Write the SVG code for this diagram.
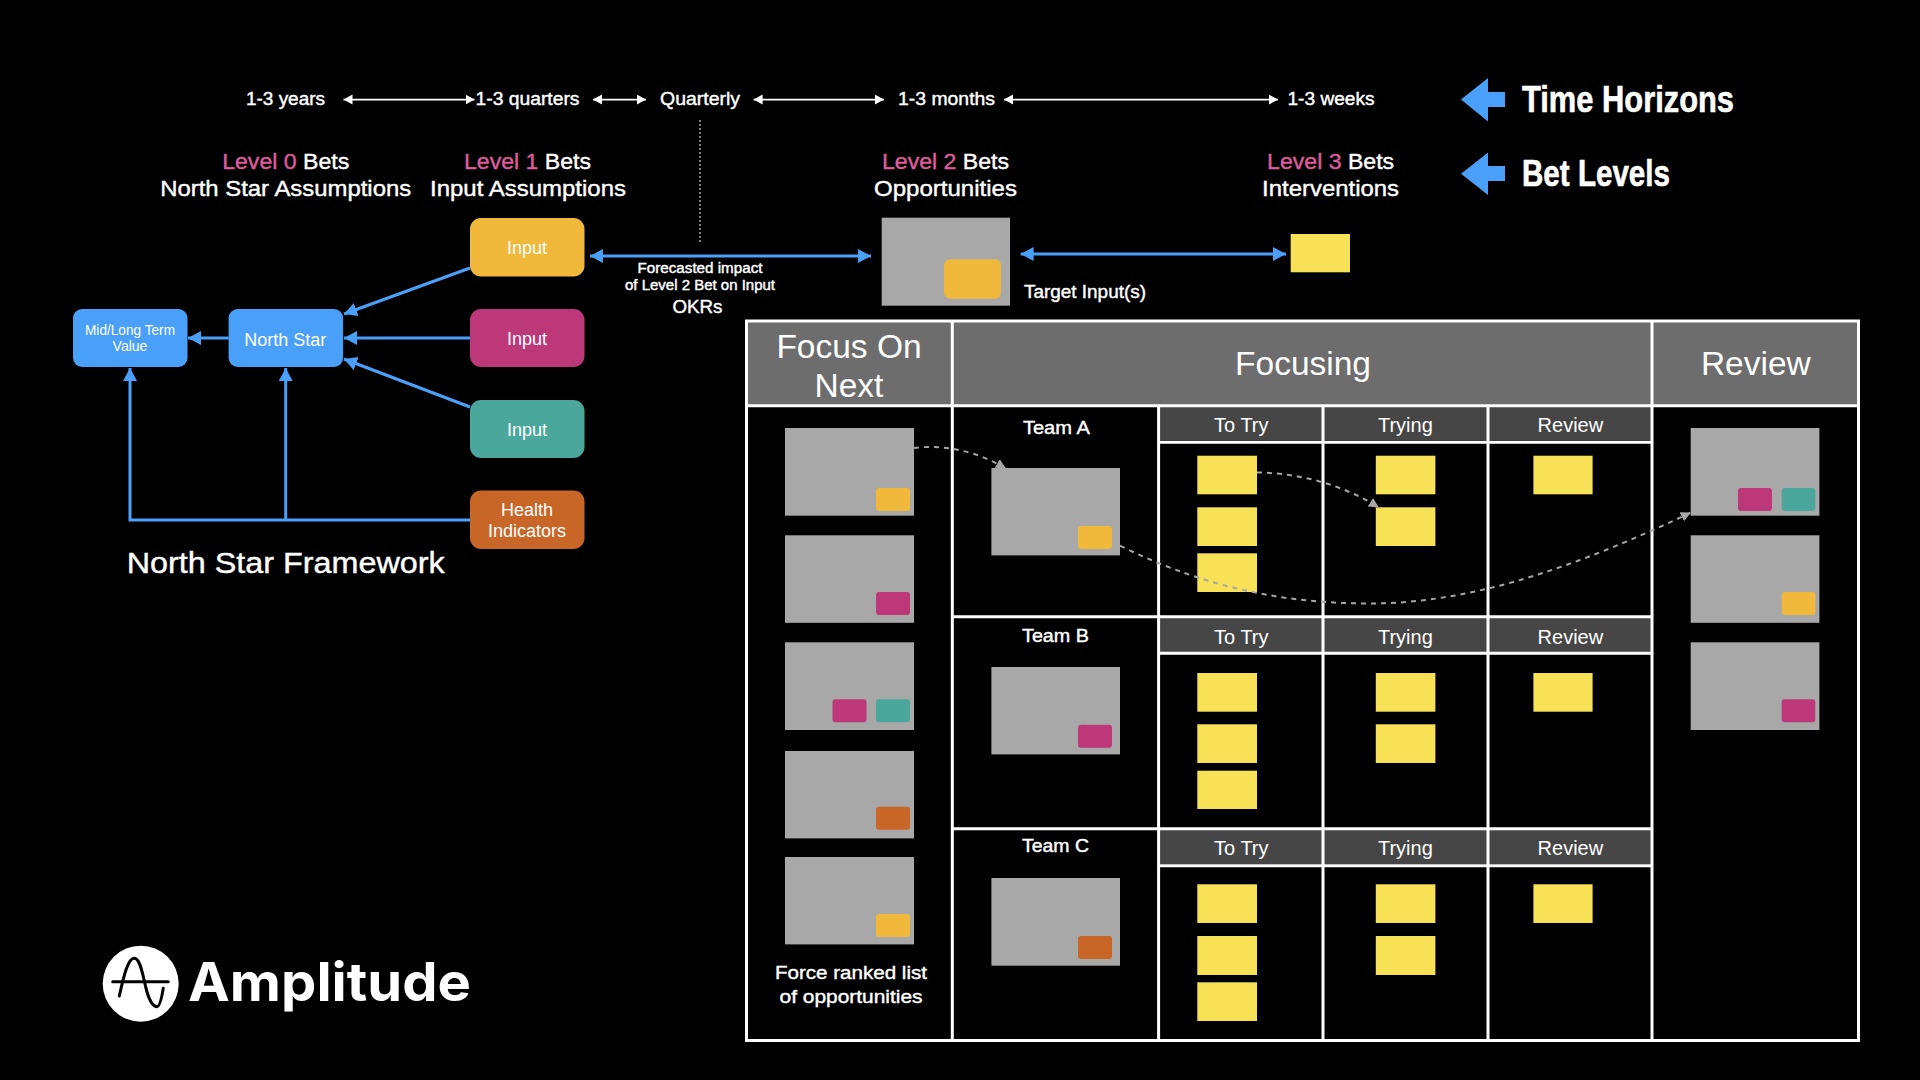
<svg xmlns="http://www.w3.org/2000/svg" width="1920" height="1080" viewBox="0 0 1920 1080">
<style>
text{font-family:"Liberation Sans",Arial,sans-serif;fill:#fff;text-anchor:middle}
.m{stroke:#fff;stroke-width:.4}
.pink{fill:#df5c9c;stroke:#df5c9c}
.t18{font-size:18px}
.t21{font-size:22px}
.b{fill:none;stroke:#4a9ff8;stroke-width:3}
.w{fill:none;stroke:#fff;stroke-width:1.6}
.d{fill:none;stroke:#a6a6a6;stroke-width:2;stroke-dasharray:5 5}
.card{fill:#a8a8a8}
.sticky{fill:#f7e157}
.cy{fill:#f0b93c}.cm{fill:#bc3878}.ct{fill:#4ba79c}.co{fill:#c86628}.cb{fill:#4a9ff8}
.hd{fill:#6d6d6d}.sh{fill:#464646}
.g{fill:none;stroke:#fff;stroke-width:3}
.h1{font-size:33.500px}.h2{font-size:20px}.tm{font-size:19px}
.cond{font-family:"Liberation Sans Narrow","Liberation Sans",sans-serif;font-weight:700;font-size:37px;text-anchor:start;stroke:#fff;stroke-width:.6}
</style>
<defs>
<marker id="ab" markerUnits="userSpaceOnUse" markerWidth="16" markerHeight="16" refX="13" refY="7" orient="auto-start-reverse"><path d="M0 0L13 7L0 14z" fill="#4a9ff8"/></marker>
<marker id="aw" markerUnits="userSpaceOnUse" markerWidth="12" markerHeight="12" refX="9" refY="5" orient="auto-start-reverse"><path d="M0 0L9 5L0 10z" fill="#fff"/></marker>
<marker id="ag" markerUnits="userSpaceOnUse" markerWidth="12" markerHeight="12" refX="9" refY="5" orient="auto"><path d="M0 0L10 5L0 10z" fill="#a6a6a6"/></marker>
</defs>
<rect width="1920" height="1080" fill="#000"/>

<g id="horizons-text">
<text class="t18 m" x="285.500" y="105" textLength="79" lengthAdjust="spacingAndGlyphs">1-3 years</text>
<text class="t18 m" x="527.500" y="105" textLength="104" lengthAdjust="spacingAndGlyphs">1-3 quarters</text>
<text class="t18 m" x="700" y="105" textLength="80" lengthAdjust="spacingAndGlyphs">Quarterly</text>
<text class="t18 m" x="946.500" y="105" textLength="97" lengthAdjust="spacingAndGlyphs">1-3 months</text>
<text class="t18 m" x="1331" y="105" textLength="87" lengthAdjust="spacingAndGlyphs">1-3 weeks</text>
</g>
<g id="level-0"><text class="t21 m" x="285.700" y="169" textLength="127" lengthAdjust="spacingAndGlyphs"><tspan class="pink">Level 0</tspan> Bets</text><text class="t21 m" x="285.700" y="196" textLength="251" lengthAdjust="spacingAndGlyphs">North Star Assumptions</text></g>
<g id="level-1"><text class="t21 m" x="527.500" y="169" textLength="127" lengthAdjust="spacingAndGlyphs"><tspan class="pink">Level 1</tspan> Bets</text><text class="t21 m" x="528" y="196" textLength="196" lengthAdjust="spacingAndGlyphs">Input Assumptions</text></g>
<g id="level-2"><text class="t21 m" x="945.500" y="169" textLength="127" lengthAdjust="spacingAndGlyphs"><tspan class="pink">Level 2</tspan> Bets</text><text class="t21 m" x="945.500" y="196" textLength="143" lengthAdjust="spacingAndGlyphs">Opportunities</text></g>
<g id="level-3"><text class="t21 m" x="1330.600" y="169" textLength="127" lengthAdjust="spacingAndGlyphs"><tspan class="pink">Level 3</tspan> Bets</text><text class="t21 m" x="1330.600" y="196" textLength="137" lengthAdjust="spacingAndGlyphs">Interventions</text></g>

<g id="legend-time"><path class="cb" d="M1461 99.500L1488 78V92H1505V107H1488V121.500z"/><text class="cond" x="1522" y="112" textLength="212" lengthAdjust="spacingAndGlyphs">Time Horizons</text></g>
<g id="legend-bets"><path class="cb" d="M1461 173.700L1488 152.500V166H1505V181H1488V195z"/><text class="cond" x="1522" y="186" textLength="148" lengthAdjust="spacingAndGlyphs">Bet Levels</text></g>

<g id="connectors">
<path class="w" marker-start="url(#aw)" marker-end="url(#aw)" d="M343.500 99.600H474.500"/>
<path class="w" marker-start="url(#aw)" marker-end="url(#aw)" d="M593 99.600H646"/>
<path class="w" marker-start="url(#aw)" marker-end="url(#aw)" d="M753.600 99.600H884"/>
<path class="w" marker-start="url(#aw)" marker-end="url(#aw)" d="M1004 99.600H1278"/>
<path d="M700 120V243" fill="none" stroke="#a6a6a6" stroke-width="1.500" stroke-dasharray="2 2"/>
<path class="b" marker-start="url(#ab)" marker-end="url(#ab)" d="M590 256H871"/>
<path class="b" marker-start="url(#ab)" marker-end="url(#ab)" d="M1020.600 254H1286"/>
<path class="b" marker-end="url(#ab)" d="M470 268L344 314"/>
<path class="b" marker-end="url(#ab)" d="M470 338H344"/>
<path class="b" marker-end="url(#ab)" d="M470 407L344 359"/>
<path class="b" marker-end="url(#ab)" d="M228.600 338H188"/>
<path class="b" marker-end="url(#ab)" d="M470 520H130V368"/>
<path class="b" marker-end="url(#ab)" d="M285.700 520V368"/>
</g>

<g id="node-input-1"><rect class="cy" x="470" y="218" width="114.500" height="58.500" rx="11"/><text class="t18" x="527" y="254">Input</text></g>
<g id="node-input-2"><rect class="cm" x="470" y="309" width="114.500" height="58" rx="11"/><text class="t18" x="527" y="345">Input</text></g>
<g id="node-input-3"><rect class="ct" x="470" y="400" width="114.500" height="58" rx="11"/><text class="t18" x="527" y="436">Input</text></g>
<g id="node-health"><rect class="co" x="470" y="490.500" width="114.500" height="58.500" rx="11"/><text class="t18" x="527" y="516">Health</text><text class="t18" x="527" y="537">Indicators</text></g>
<g id="node-north-star"><rect class="cb" x="228.600" y="309" width="114.500" height="58" rx="9"/><text class="t18" x="285.200" y="345.500">North Star</text></g>
<g id="node-value"><rect class="cb" x="73" y="309" width="114.500" height="58" rx="9"/><text x="130" y="335" font-size="14" textLength="90" lengthAdjust="spacingAndGlyphs">Mid/Long Term</text><text x="130" y="351" font-size="14">Value</text></g>
<text id="framework-title" class="m" x="285.700" y="573" font-size="30" stroke-width=".7" textLength="318" lengthAdjust="spacingAndGlyphs">North Star Framework</text>
<g id="forecast-label"><text class="m" x="700" y="272.500" font-size="14" textLength="125" lengthAdjust="spacingAndGlyphs">Forecasted impact</text><text class="m" x="700" y="289.500" font-size="14" textLength="150" lengthAdjust="spacingAndGlyphs">of Level 2 Bet on Input</text><text class="t18 m" x="697.500" y="313" textLength="50" lengthAdjust="spacingAndGlyphs">OKRs</text></g>

<g id="node-level2"><rect class="card" x="881.700" y="217.700" width="128.300" height="88"/><rect class="cy" x="944" y="259.300" width="57" height="39.500" rx="6"/></g>
<g id="node-level3"><rect class="sticky" x="1290.700" y="234" width="59.300" height="38.300"/></g>
<text id="target-label" class="t18 m" x="1085" y="297.500" textLength="122" lengthAdjust="spacingAndGlyphs">Target Input(s)</text>

<g id="board">
<rect class="hd" x="746.500" y="321" width="1112" height="85"/>
<rect class="sh" x="1158.600" y="407" width="493.400" height="33"/>
<rect class="sh" x="1158.600" y="618" width="493.400" height="34"/>
<rect class="sh" x="1158.600" y="830" width="493.400" height="34"/>
<path class="g" d="M746.500 321H1858.500V1040.500H746.500zM746.500 405.700H1858.500M952.300 321V1040.500M1158.600 405.700V1040.500M1323 405.700V1040.500M1488 405.700V1040.500M1652 321V1040.500M952.300 616.700H1652M952.300 828.700H1652M1158.600 442.300H1652M1158.600 653.300H1652M1158.600 865.700H1652"/>
<text class="h1" x="849" y="358">Focus On</text><text class="h1" x="849" y="397">Next</text>
<text class="h1" x="1303" y="375">Focusing</text><text class="h1" x="1755.800" y="375">Review</text>
<text class="tm m" x="1056.400" y="434" textLength="67" lengthAdjust="spacingAndGlyphs">Team A</text><text class="tm m" x="1055.500" y="642" textLength="67" lengthAdjust="spacingAndGlyphs">Team B</text><text class="tm m" x="1055.500" y="852" textLength="67" lengthAdjust="spacingAndGlyphs">Team C</text>
<text class="h2" x="1241.300" y="432">To Try</text><text class="h2" x="1405.400" y="432">Trying</text><text class="h2" x="1570.400" y="432">Review</text>
<text class="h2" x="1241.300" y="644">To Try</text><text class="h2" x="1405.400" y="644">Trying</text><text class="h2" x="1570.400" y="644">Review</text>
<text class="h2" x="1241.300" y="855">To Try</text><text class="h2" x="1405.400" y="855">Trying</text><text class="h2" x="1570.400" y="855">Review</text>
<text class="tm m" x="851" y="979" textLength="152" lengthAdjust="spacingAndGlyphs">Force ranked list</text><text class="tm m" x="851" y="1003" textLength="143" lengthAdjust="spacingAndGlyphs">of opportunities</text>
</g>

<g id="focus-cards">
<g id="focus-1"><rect class="card" x="785" y="428" width="129" height="87.700"/><rect class="cy" x="876" y="488" width="34" height="23" rx="3"/></g>
<g id="focus-2"><rect class="card" x="785" y="535.300" width="129" height="87.500"/><rect class="cm" x="876" y="592" width="34" height="23" rx="3"/></g>
<g id="focus-3"><rect class="card" x="785" y="642.300" width="129" height="87.700"/><rect class="cm" x="832.500" y="699.300" width="34" height="23" rx="3"/><rect class="ct" x="876" y="699.300" width="34" height="23" rx="3"/></g>
<g id="focus-4"><rect class="card" x="785" y="751" width="129" height="87.400"/><rect class="co" x="876" y="806.700" width="34" height="23" rx="3"/></g>
<g id="focus-5"><rect class="card" x="785" y="857" width="129" height="87.400"/><rect class="cy" x="876" y="914" width="34" height="23" rx="3"/></g>
</g>
<g id="team-cards">
<g id="team-a"><rect class="card" x="991.400" y="468" width="128.600" height="87.400"/><rect class="cy" x="1078" y="526" width="34" height="23" rx="3"/></g>
<g id="team-b"><rect class="card" x="991.400" y="667" width="128.600" height="87.400"/><rect class="cm" x="1078" y="724.700" width="34" height="23" rx="3"/></g>
<g id="team-c"><rect class="card" x="991.400" y="878" width="128.600" height="87.700"/><rect class="co" x="1078" y="936" width="34" height="23" rx="3"/></g>
</g>
<g id="stickies">
<rect class="sticky" x="1197.300" y="455.700" width="59.700" height="38.600"/><rect class="sticky" x="1197.300" y="507.300" width="59.700" height="38.700"/><rect class="sticky" x="1197.300" y="553.300" width="59.700" height="38.700"/>
<rect class="sticky" x="1375.800" y="455.700" width="59.600" height="38.600"/><rect class="sticky" x="1375.800" y="507.300" width="59.600" height="38.700"/><rect class="sticky" x="1533.400" y="455.700" width="59.200" height="38.600"/>
<rect class="sticky" x="1197.300" y="673" width="59.700" height="38.700"/><rect class="sticky" x="1197.300" y="724.300" width="59.700" height="38.700"/><rect class="sticky" x="1197.300" y="770.700" width="59.700" height="38.300"/>
<rect class="sticky" x="1375.800" y="673" width="59.600" height="38.700"/><rect class="sticky" x="1375.800" y="724.300" width="59.600" height="38.700"/><rect class="sticky" x="1533.400" y="673" width="59.200" height="38.700"/>
<rect class="sticky" x="1197.300" y="884.300" width="59.700" height="38.700"/><rect class="sticky" x="1197.300" y="936" width="59.700" height="39"/><rect class="sticky" x="1197.300" y="982.300" width="59.700" height="38.700"/>
<rect class="sticky" x="1375.800" y="884.300" width="59.600" height="38.700"/><rect class="sticky" x="1375.800" y="936" width="59.600" height="39"/><rect class="sticky" x="1533.400" y="884.300" width="59.200" height="38.700"/>
</g>
<g id="review-cards">
<g id="review-1"><rect class="card" x="1690.700" y="428" width="128.700" height="87.700"/><rect class="cm" x="1738" y="488" width="34" height="23" rx="3"/><rect class="ct" x="1781.700" y="488" width="33.600" height="23" rx="3"/></g>
<g id="review-2"><rect class="card" x="1690.700" y="535.300" width="128.700" height="87.500"/><rect class="cy" x="1781.700" y="592" width="33.600" height="23" rx="3"/></g>
<g id="review-3"><rect class="card" x="1690.700" y="642.300" width="128.700" height="87.700"/><rect class="cm" x="1781.700" y="699.300" width="33.600" height="23" rx="3"/></g>
</g>
<g id="flow-connectors">
<path class="d" marker-end="url(#ag)" d="M914 448C945 444 978 452 1005 468"/>
<path class="d" marker-end="url(#ag)" d="M1257 472.500C1300 473 1343 485 1378 507"/>
<path class="d" marker-end="url(#ag)" d="M1120 545.700C1210 590 1290 603.500 1370 603.500C1480 603.500 1590 560 1690 513"/>
</g>
<g id="logo">
<circle cx="140.700" cy="983.700" r="38" fill="#fff"/>
<path d="M112.700 981.700H168.300M119.300 996C124 975 128 958.300 134.300 958.300C141 958.300 143 978 147 992C150 1002 153 1006.700 157 1006.700C160 1006.700 162 996 163.300 988.300" fill="none" stroke="#000" stroke-width="3" stroke-linecap="round"/>
<text x="188" y="1001" font-size="54" font-weight="700" textLength="283" lengthAdjust="spacingAndGlyphs" style="font-family:Inter,'Noto Sans',sans-serif;text-anchor:start">Amplitude</text>
</g>
</svg>
